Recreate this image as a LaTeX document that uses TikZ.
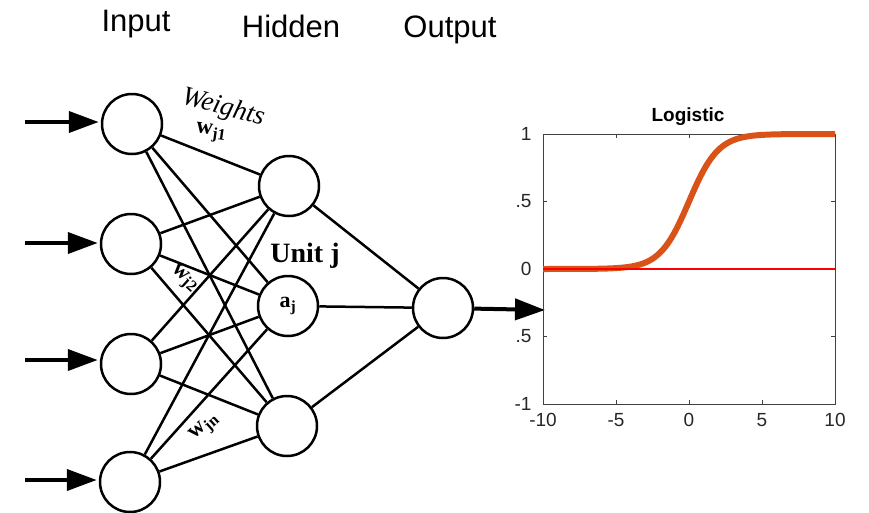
\documentclass[tikz,border=0pt]{standalone}
\usepackage{fontspec}
\setmainfont{Liberation Serif}
\setsansfont{Liberation Sans}
\usetikzlibrary{arrows.meta}
\definecolor{sigorange}{RGB}{217,83,25}

\begin{document}
\begin{tikzpicture}[x=1pt, y=-1pt,
    unit/.style={circle, draw, line width=2.5pt, minimum size=60pt, inner sep=0pt},
    link/.style={line width=2.5pt},
    feed/.style={line width=4pt, -{Triangle[length=30pt, width=21pt]}, shorten >=2pt},
    layer/.style={font=\sffamily\fontsize{31}{31}\selectfont},
    wlabel/.style={font=\bfseries\fontsize{23}{23}\selectfont},
    ticklabel/.style={font=\sffamily\fontsize{19}{19}\selectfont, text=black!85}]
  \useasboundingbox (0,0) rectangle (869,512);

  % layer titles
  \node[layer] (tin) at (136,24) {Input};
  \node[layer] (thid) at (291,26) {Hidden};
  \node[layer] (tout) at (450,30) {Output};

  % units
  \node[unit] (in1) at (132,124) {};
  \node[unit] (in2) at (131,244) {};
  \node[unit] (in3) at (131,364) {};
  \node[unit] (in4) at (130,482) {};
  \node[unit] (h1) at (289,186) {};
  \node[unit, font=\bfseries\fontsize{22}{22}\selectfont] (h2) at (288,306) {a\textsubscript{j}};
  \node[unit] (h3) at (287,426) {};
  \node[unit] (out) at (443,308) {};

  % connections
  \foreach \i in {1,...,4}
    \foreach \j in {1,2,3}
      \draw[link] (in\i) -- (h\j);
  \foreach \j in {1,2,3}
    \draw[link] (h\j) -- (out);

  % input and output arrows
  \foreach \i/\y in {1/122, 2/243, 3/360, 4/480} {
    \coordinate (src\i) at (25,\y);
    \draw[feed] (src\i) -- (src\i -| in\i.west);
  }
  \coordinate (dst) at (545,310);
  \draw[feed, shorten >=0pt] (out) -- (dst);

  % labels
  \node[rotate=-15, font=\itshape\fontsize{27}{27}\selectfont] (wts) at (223,108) {Weights};
  \node[wlabel, rotate=-8] (w1) at (211,133) {w\textsubscript{j1}};
  \node[wlabel, rotate=-42] (w2) at (184,279) {w\textsubscript{j2}};
  \node[wlabel, rotate=42] (wn) at (205,428) {w\textsubscript{jn}};
  \node[font=\bfseries\fontsize{28}{28}\selectfont] (unitj) at (305,256) {Unit j};

  % logistic plot
  \node[font=\sffamily\bfseries\fontsize{19}{19}\selectfont] (title) at (688,117) {Logistic};
  \draw[black!75, line width=1pt] (543,134) rectangle (835,404);
  \foreach \t in {-5,0,5} {
    \draw[black!75, line width=1pt] ({689+14.6*\t},404) -- ++(0,-4);
    \draw[black!75, line width=1pt] ({689+14.6*\t},134) -- ++(0,4);
  }
  \foreach \v in {-0.5,0,0.5} {
    \draw[black!75, line width=1pt] (543,{269-135*\v}) -- ++(4,0);
    \draw[black!75, line width=1pt] (835,{269-135*\v}) -- ++(-4,0);
  }
  \draw[sigorange, line width=6pt] (543,269) -- plot[domain=-9.5:10, samples=120, smooth]
    ({689+14.6*\x},{269-135/(1+exp(-\x))});
  \draw[red, line width=1.5pt] (543,269) -- (835,269);
  \foreach \t/\s in {-10/-10, -5/-5, 0/0, 5/5, 10/10}
    \node[ticklabel] (xl\s) at ({689+14.6*\t},420) {\s};
  \foreach \v/\s/\n in {1/1/a, 0.5/.5/b, 0/0/c, -0.5/.5/d, -1/-1/e}
    \node[ticklabel, anchor=east] (yl\n) at (535,{269-135*\v}) {\s};
\end{tikzpicture}
\end{document}
